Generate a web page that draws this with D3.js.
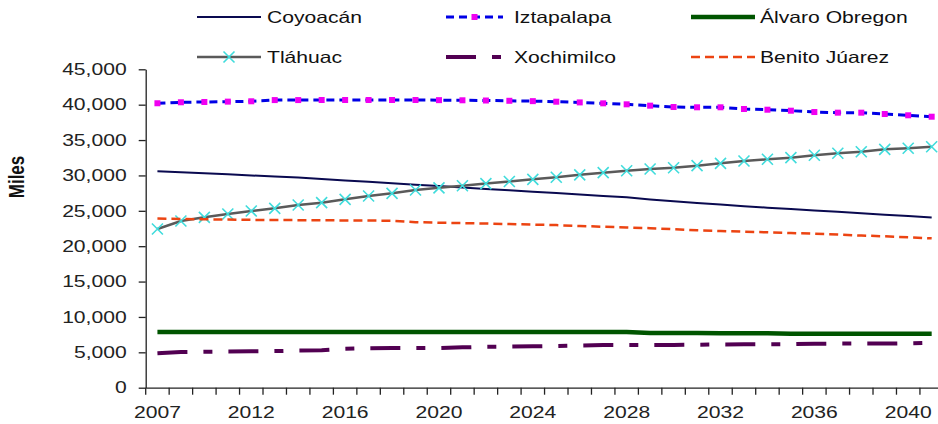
<!DOCTYPE html>
<html>
<head>
<meta charset="utf-8">
<script src="https://cdn.jsdelivr.net/npm/d3@7"></script>
<style>
  body { margin: 0; background: #fff; }
  svg { display: block; font-family: "Liberation Sans", Arial, sans-serif; }
</style>
</head>
<body>
<div id="chart"></div>
<script>
// Categories (only every 4th one gets a label)
const years = ['2007', '2009', '2010', '2011', '2012', '2013', '2014', '2015', '2016', '2017',
  '2018', '2019', '2020', '2021', '2022', '2023', '2024', '2025', '2026', '2027',
  '2028', '2029', '2030', '2031', '2032', '2033', '2034', '2035', '2036', '2037',
  '2038', '2039', '2040', '2041'];
const xLabels = ['2007', '2012', '2016', '2020', '2024', '2028', '2032', '2036', '2040'];
const yTicks = [0, 5000, 10000, 15000, 20000, 25000, 30000, 35000, 40000, 45000];

// Population (thousands)
const coyoacan = [30600, 30450, 30300, 30150, 30000, 29850, 29700, 29500, 29300, 29100,
  28900, 28700, 28500, 28300, 28100, 27900, 27700, 27500, 27300, 27100,
  26900, 26600, 26350, 26100, 25900, 25650, 25450, 25250, 25050, 24850,
  24650, 24450, 24250, 24050];
const iztapalapa = [40200, 40340, 40380, 40430, 40480, 40650, 40650, 40660, 40660, 40660,
  40660, 40660, 40640, 40620, 40590, 40550, 40500, 40420, 40320, 40190,
  40050, 39860, 39670, 39630, 39630, 39390, 39290, 39150, 38960, 38870,
  38870, 38680, 38500, 38300];
const alvaroObregon = [7870, 7870, 7870, 7870, 7870, 7870, 7870, 7870, 7870, 7870,
  7870, 7870, 7870, 7870, 7870, 7870, 7870, 7870, 7870, 7870,
  7870, 7730, 7720, 7720, 7710, 7710, 7700, 7640, 7640, 7630,
  7630, 7630, 7620, 7620];
const tlahuac = [22430, 23560, 24080, 24550, 24970, 25350, 25820, 26150, 26620, 27090,
  27470, 27940, 28250, 28550, 28850, 29150, 29450, 29750, 30080, 30390,
  30670, 30910, 31090, 31380, 31710, 32040, 32280, 32510, 32850, 33130,
  33350, 33690, 33840, 34060];
const xochimilco = [4880, 5040, 5080, 5110, 5140, 5170, 5250, 5300, 5500, 5580,
  5600, 5600, 5620, 5700, 5790, 5810, 5850, 5900, 5960, 6030,
  6040, 6040, 6050, 6080, 6120, 6130, 6140, 6150, 6220, 6230,
  6230, 6240, 6280, 6360];
const benitoJuarez = [23900, 23850, 23800, 23760, 23720, 23700, 23680, 23660, 23640, 23620,
  23600, 23400, 23320, 23260, 23200, 23120, 23050, 22980, 22850, 22750,
  22650, 22550, 22400, 22250, 22150, 22050, 21960, 21860, 21770, 21660,
  21500, 21400, 21260, 21110];

const series = [
  { name: 'Coyoacán', values: coyoacan, color: '#0a0a50', width: 2, dash: null },
  { name: 'Iztapalapa', values: iztapalapa, color: '#0000e6', width: 3, dash: '8,5', marker: 'square' },
  { name: 'Álvaro Obregon', values: alvaroObregon, color: '#005500', width: 4.5, dash: null },
  { name: 'Tláhuac', values: tlahuac, color: '#5a5a5a', width: 2.5, dash: null, marker: 'cross' },
  { name: 'Xochimilco', values: xochimilco, color: '#520052', width: 4, dash: '30,16,9,16' },
  { name: 'Benito Júarez', values: benitoJuarez, color: '#ec4412', width: 2.5, dash: '9,5' }
];

const width = 938;
const height = 424;
const SX = 1.28;       // the original picture is stretched horizontally
const fontSize = 16.5;

const svg = d3.select('#chart')
  .append('svg')
  .attr('width', width)
  .attr('height', height);

// Scales (plot runs a bit past the right edge, as in the source)
const x = d3.scaleBand().domain(years).range([145.7, 943.4]);
const y = d3.scaleLinear().domain([0, 45000]).range([387.7, 69.3]);
const cx = d => x(d) + x.bandwidth() / 2;

// Y axis
const yAxis = svg.append('g')
  .attr('transform', `translate(${x.range()[0]},0)`)
  .call(d3.axisLeft(y).tickValues(yTicks).tickSize(7).tickSizeOuter(0).tickFormat(d3.format(',')));
yAxis.select('.domain').attr('stroke', '#222').attr('stroke-width', 1.3);
yAxis.selectAll('.tick line').attr('stroke', '#222').attr('stroke-width', 1.3);
yAxis.selectAll('.tick text')
  .attr('x', -19 / SX)
  .attr('transform', `scale(${SX},1)`)
  .style('font-size', fontSize + 'px')
  .style('font-family', '"Liberation Sans", Arial, sans-serif')
  .attr('fill', '#222');

// X axis: labels centred on categories, tick marks between categories
const xAxis = svg.append('g')
  .attr('transform', `translate(0,${y(0)})`)
  .call(d3.axisBottom(x).tickValues(xLabels).tickSize(0).tickSizeOuter(0));
xAxis.select('.domain').attr('stroke', '#222').attr('stroke-width', 1.3);
xAxis.selectAll('.tick text')
  .attr('y', 18.9)
  .attr('transform', `scale(${SX},1)`)
  .style('font-size', fontSize + 'px')
  .style('font-family', '"Liberation Sans", Arial, sans-serif')
  .attr('fill', '#222');

svg.append('g')
  .selectAll('line')
  .data(years.map(d => x(d)).concat([x.range()[1]]))
  .join('line')
  .attr('x1', d => d).attr('x2', d => d)
  .attr('y1', y(0)).attr('y2', y(0) + 7)
  .attr('stroke', '#222')
  .attr('stroke-width', 1.3);

// Y axis title
svg.append('text')
  .attr('transform', `translate(24,177) scale(${SX},1) rotate(-90)`)
  .attr('text-anchor', 'middle')
  .style('font-size', '17px')
  .style('font-weight', 'bold')
  .attr('fill', '#111')
  .text('Miles');

// Lines
const line = d3.line()
  .x((v, i) => cx(years[i]))
  .y(v => y(v));

series.forEach(s => {
  svg.append('path')
    .attr('fill', 'none')
    .attr('stroke', s.color)
    .attr('stroke-width', s.width)
    .attr('stroke-dasharray', s.dash)
    .attr('d', line(s.values));

  if (s.marker === 'square') {
    svg.append('g').selectAll('rect')
      .data(s.values)
      .join('rect')
      .attr('x', (v, i) => cx(years[i]) - 3)
      .attr('y', v => y(v) - 3)
      .attr('width', 6).attr('height', 6)
      .attr('fill', '#f000f0');
  }
  if (s.marker === 'cross') {
    svg.append('g').selectAll('path')
      .data(s.values)
      .join('path')
      .attr('d', (v, i) => {
        const px = cx(years[i]), py = y(v), r = 5.5;
        return `M${px - r},${py - r}L${px + r},${py + r}M${px - r},${py + r}L${px + r},${py - r}`;
      })
      .attr('stroke', '#40dcdc')
      .attr('stroke-width', 1.6)
      .attr('fill', 'none');
  }
});

// Legend: 2 rows x 3 columns
const legendCols = [{ x0: 197, x1: 261, tx: 267 }, { x0: 446, x1: 503, tx: 514 }, { x0: 691, x1: 755, tx: 760 }];
const legendRows = [17, 57];

series.forEach((s, i) => {
  const col = legendCols[i % 3];
  const ly = legendRows[Math.floor(i / 3)];
  const g = svg.append('g');
  g.append('line')
    .attr('x1', col.x0).attr('x2', col.x1)
    .attr('y1', ly).attr('y2', ly)
    .attr('stroke', s.color)
    .attr('stroke-width', s.width)
    .attr('stroke-dasharray', s.dash);
  const mx = (col.x0 + col.x1) / 2;
  if (s.marker === 'square') {
    g.append('rect').attr('x', mx - 3).attr('y', ly - 3).attr('width', 6).attr('height', 6).attr('fill', '#f000f0');
  }
  if (s.marker === 'cross') {
    const r = 5.5;
    g.append('path')
      .attr('d', `M${mx - r},${ly - r}L${mx + r},${ly + r}M${mx - r},${ly + r}L${mx + r},${ly - r}`)
      .attr('stroke', '#40dcdc').attr('stroke-width', 1.6);
  }
  g.append('text')
    .attr('transform', `translate(${col.tx},${ly + 6}) scale(${SX},1)`)
    .style('font-size', fontSize + 'px')
    .attr('fill', '#111')
    .text(s.name);
});
</script>
</body>
</html>
